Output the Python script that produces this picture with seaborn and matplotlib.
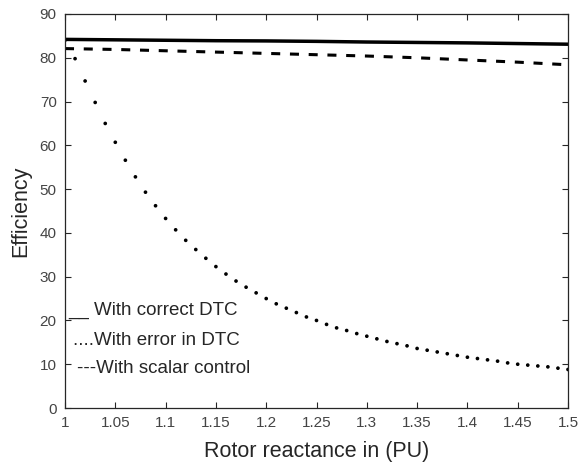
import numpy as np
import pandas as pd
import matplotlib
matplotlib.use("Agg")
import matplotlib.pyplot as plt
import seaborn as sns

# ---- data ----
x_coarse = [1.00, 1.05, 1.10, 1.15, 1.20, 1.25, 1.30, 1.35, 1.40, 1.45, 1.50]
correct_dtc = [84.2, 84.1, 84.0, 83.9, 83.85, 83.75, 83.6, 83.5, 83.4, 83.25, 83.1]
scalar_ctrl = [82.1, 81.9, 81.6, 81.3, 81.0, 80.7, 80.4, 80.0, 79.5, 79.0, 78.4]

x_fine = [1.00, 1.01, 1.02, 1.03, 1.04, 1.05, 1.06, 1.07, 1.08, 1.09,
          1.10, 1.11, 1.12, 1.13, 1.14, 1.15, 1.16, 1.17, 1.18, 1.19,
          1.20, 1.21, 1.22, 1.23, 1.24, 1.25, 1.26, 1.27, 1.28, 1.29,
          1.30, 1.31, 1.32, 1.33, 1.34, 1.35, 1.36, 1.37, 1.38, 1.39,
          1.40, 1.41, 1.42, 1.43, 1.44, 1.45, 1.46, 1.47, 1.48, 1.49, 1.50]
error_dtc = [84.0, 79.8, 74.7, 69.8, 65.0, 60.7, 56.6, 52.8, 49.3, 46.2,
             43.3, 40.7, 38.3, 36.2, 34.2, 32.3, 30.6, 29.0, 27.6, 26.3,
             25.0, 23.8, 22.8, 21.8, 20.8, 20.0, 19.1, 18.3, 17.7, 17.0,
             16.4, 15.8, 15.2, 14.7, 14.2, 13.6, 13.2, 12.8, 12.4, 12.0,
             11.6, 11.3, 11.0, 10.7, 10.3, 10.0, 9.8, 9.6, 9.4, 9.1, 8.8]

x_ticks = [1, 1.05, 1.1, 1.15, 1.2, 1.25, 1.3, 1.35, 1.4, 1.45, 1.5]
x_tick_labels = ["1", "1.05", "1.1", "1.15", "1.2", "1.25", "1.3", "1.35", "1.4", "1.45", "1.5"]
y_ticks = [0, 10, 20, 30, 40, 50, 60, 70, 80, 90]

legend_lines = ["__ With correct DTC", "....With error in DTC", "---With scalar control"]

sns.set_style("white")
plt.rcParams['font.family'] = ['Liberation Sans', 'DejaVu Sans']
plt.rcParams['lines.scale_dashes'] = False

df_c = pd.DataFrame({"x": x_coarse, "correct": correct_dtc, "scalar": scalar_ctrl})
df_f = pd.DataFrame({"x": x_fine, "error": error_dtc})

fig = plt.figure(figsize=(5.85, 4.66), dpi=100)
ax = fig.add_axes([65/585, 1-408/466, (568-65)/585, (408-14)/466])

sns.lineplot(data=df_c, x="x", y="correct", ax=ax, color="black", lw=2.5)
sns.lineplot(data=df_c, x="x", y="scalar", ax=ax, color="black", lw=2.2,
             dashes=False, linestyle=(0, (6.5, 7.0)))
sns.scatterplot(data=df_f, x="x", y="error", ax=ax, color="black", s=7,
                marker="o", edgecolor="none")

ax.set_xlim(1, 1.5)
ax.set_ylim(0, 90)
ax.set_xticks(x_ticks)
ax.set_xticklabels(x_tick_labels)
ax.set_yticks(y_ticks)

gray = "#262626"
for s in ax.spines.values():
    s.set_color(gray)
    s.set_linewidth(0.9)
    s.set_visible(True)
ax.tick_params(direction="in", length=4, width=0.8, colors=gray,
               labelcolor="#444444", labelsize=11,
               top=True, right=True, bottom=True, left=True, pad=6)

ax.set_xlabel("Rotor reactance in (PU)", fontsize=15.5, color="#262626", labelpad=8)
ax.set_ylabel("Efficiency", fontsize=15.5, color="#262626", labelpad=6)

txt_pos = [(1.003, 21.2), (1.008, 14.4), (1.012, 8.0)]
for (tx, ty), label in zip(txt_pos, legend_lines):
    ax.text(tx, ty, label, fontsize=13.5, color="#262626", va="baseline", ha="left")

fig.savefig("out.png", dpi=100)
